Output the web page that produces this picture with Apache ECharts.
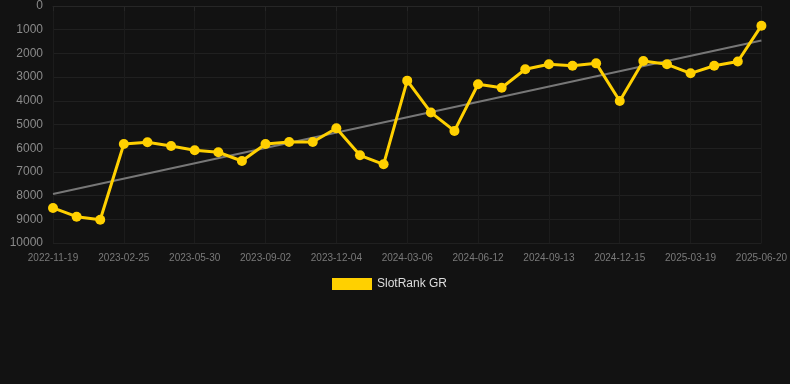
<!DOCTYPE html>
<html><head><meta charset="utf-8">
<script src="https://cdn.jsdelivr.net/npm/echarts@6/dist/echarts.min.js"></script>
<style>html,body{margin:0;padding:0;background:#121212}#c{width:790px;height:384px}</style>
</head><body><div id="c"></div>
<script>
var categories = ['2022-11-19','2022-12-22','2023-01-24','2023-02-25','2023-03-30','2023-05-01','2023-05-30','2023-07-01','2023-08-02','2023-09-02','2023-10-04','2023-11-04','2023-12-04','2024-01-04','2024-02-04','2024-03-06','2024-04-08','2024-05-10','2024-06-12','2024-07-13','2024-08-13','2024-09-13','2024-10-14','2024-11-14','2024-12-15','2025-01-15','2025-02-15','2025-03-19','2025-04-19','2025-05-20','2025-06-20'];
var rankValues = [8520,8890,9020,5820,5750,5910,6090,6170,6540,5820,5740,5740,5160,6300,6680,3150,4490,5270,3300,3450,2670,2460,2520,2420,4010,2320,2460,2840,2520,2340,830];
var trendStart = 7930;
var trendEnd = 1460;
var yTicks = [0,1000,2000,3000,4000,5000,6000,7000,8000,9000,10000];

var trendData = categories.map(function(c,i){ return i===0 ? trendStart : (i===categories.length-1 ? trendEnd : null); });

var chart = echarts.init(document.getElementById('c'));
chart.setOption({
  backgroundColor:'#121212',
  animation:false,
  grid:{left:53,right:28,top:6,bottom:141},
  legend:{
    data:['SlotRank GR'], top:273, left:327,
    itemWidth:40,itemHeight:12,icon:'rect',
    textStyle:{color:'#dddddd',fontSize:12,fontFamily:'Arial, Liberation Sans, sans-serif'}
  },
  xAxis:{
    type:'category', data:categories, boundaryGap:false,
    axisLine:{show:true,lineStyle:{color:'#262626'}},
    axisTick:{show:true,interval:2,lineStyle:{color:'#262626'}},
    axisLabel:{interval:2,color:'#7a7a7a',fontSize:10,margin:10,fontFamily:'Arial, Liberation Sans, sans-serif'},
    splitLine:{show:true,interval:2,lineStyle:{color:'#1c1c1c'}}
  },
  yAxis:{
    type:'value', inverse:true, min:yTicks[0], max:yTicks[yTicks.length-1], interval:1000,
    axisLine:{show:false}, axisTick:{show:false},
    axisLabel:{color:'#8a8a8a',fontSize:12,margin:10,fontFamily:'Arial, Liberation Sans, sans-serif',
      formatter:function(v){return String(v);}},
    splitLine:{lineStyle:{color:'#202020'}}
  },
  series:[
    {name:'SlotRank GR',type:'line',data:rankValues,
     symbol:'circle',symbolSize:10,
     lineStyle:{color:'#FFD000',width:3},
     itemStyle:{color:'#FFD000'},z:3},
    {name:'trend',type:'line',data:trendData,connectNulls:true,
     showSymbol:false,symbol:'none',
     lineStyle:{color:'#777777',width:2},z:2,silent:true}
  ]
});
</script></body></html>
